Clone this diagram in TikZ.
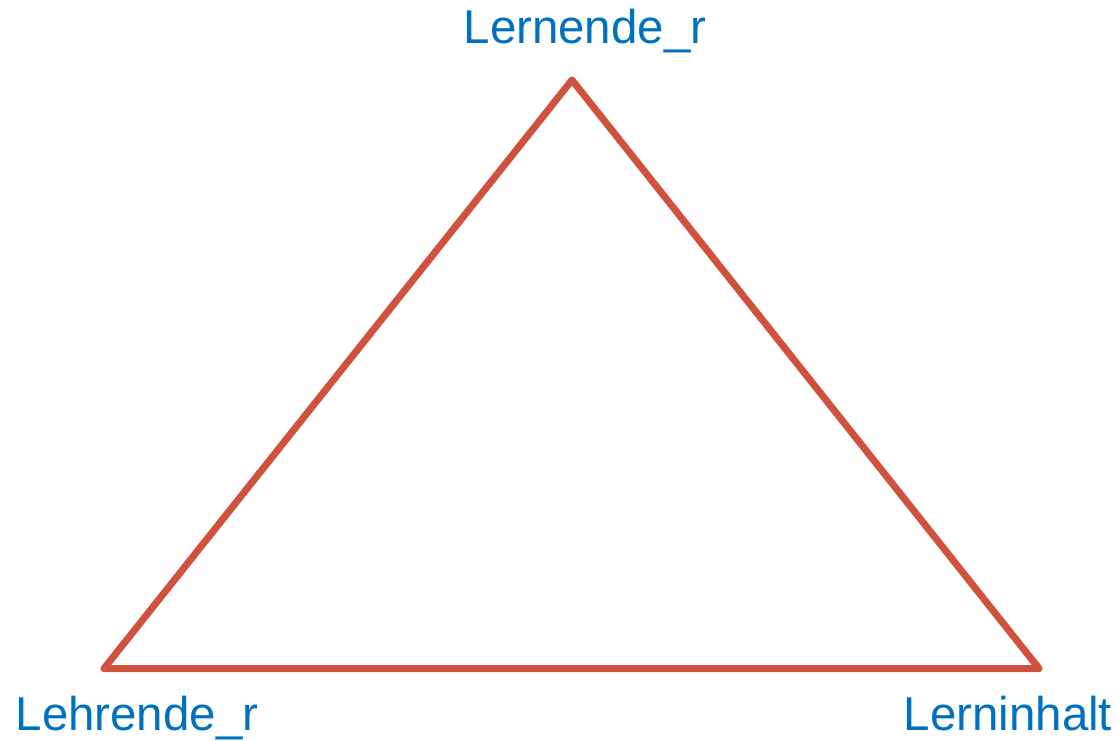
\documentclass[tikz,border=0pt]{standalone}
\usepackage{fontspec}
\setmainfont{Liberation Sans}
\usepackage{tikz}
\usetikzlibrary{positioning}

\definecolor{edgered}{RGB}{208,82,60}
\definecolor{labelblue}{RGB}{0,112,192}

\begin{document}
\begin{tikzpicture}[
    edge/.style={draw=edgered, line width=0.14cm, line join=round, line cap=round},
    vertex label/.style={text=labelblue, inner sep=0pt, anchor=base, font=\fontsize{27}{32}\selectfont},
]
  \useasboundingbox (0,0) rectangle (22.38,14.8);

  % Ecken
  \coordinate (lernende) at (11.44,13.2);
  \coordinate (lehrende) at (2.08,1.43);
  \coordinate (inhalt) at (20.78,1.43);

  % Dreieck
  \draw[edge] (lernende) -- (inhalt) -- (lehrende) -- cycle;

  % Beschriftungen
  \node[vertex label] (lernendeLabel) at (11.70,13.92) {Lernende\_r};
  \node[vertex label] (lehrendeLabel) at (2.74,0.2) {Lehrende\_r};
  \node[vertex label] (inhaltLabel) at (20.16,0.2) {Lerninhalt};
\end{tikzpicture}
\end{document}
